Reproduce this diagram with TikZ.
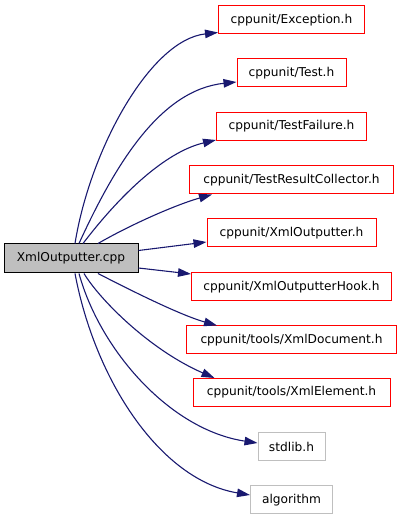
\documentclass[tikz,border=0pt]{standalone}
\usepackage{fontspec}
\setmainfont{DejaVu Sans}
\usetikzlibrary{arrows.meta}

\definecolor{edgeblue}{RGB}{25,25,112}
\definecolor{srcgrey}{RGB}{191,191,191}
\definecolor{sysgrey}{RGB}{191,191,191}
\definecolor{hdrred}{RGB}{255,0,0}

\tikzset{
  file/.style={draw, line width=1pt, minimum height=28pt, inner xsep=8pt,
    inner ysep=0pt, font=\fontsize{12.2}{14}\selectfont},
  localhdr/.style={file, draw=hdrred, minimum width=#1},
  syshdr/.style={file, draw=sysgrey, minimum width=#1},
  dep/.style={-{Triangle[length=13pt,width=8.5pt]}, draw=edgeblue,
    line width=1.1pt},
}

\begin{document}
\begin{tikzpicture}[x=1pt, y=1pt]
  \useasboundingbox (0,0) rectangle (403,520);

  % the source file
  \node[file, fill=srcgrey, minimum width=134pt, minimum height=29pt]
    (cpp) at (71,261.5) {XmlOutputter.cpp};

  % the headers it includes, all on one rank
  \node[localhdr=146pt] (exc)   at (291.5,500)   {cppunit/Exception.h};
  \node[localhdr=109pt] (test)  at (291.5,447)   {cppunit/Test.h};
  \node[localhdr=150pt] (fail)  at (291.5,393.5) {cppunit/TestFailure.h};
  \node[localhdr=204pt] (coll)  at (291.5,340)   {cppunit/TestResultCollector.h};
  \node[localhdr=169pt] (xout)  at (291.5,287)   {cppunit/XmlOutputter.h};
  \node[localhdr=200pt] (hook)  at (291.5,233)   {cppunit/XmlOutputterHook.h};
  \node[localhdr=210pt] (xdoc)  at (291.5,180)   {cppunit/tools/XmlDocument.h};
  \node[localhdr=197pt] (xelem) at (291.5,127.5) {cppunit/tools/XmlElement.h};
  \node[syshdr=67pt]    (stdlib) at (291.5,73.5) {stdlib.h};
  \node[syshdr=82pt]    (algo)  at (291.5,20)    {algorithm};

  % include edges
  \draw[dep] ([xshift=4pt]cpp.north) .. controls (90,370) and (150,480) .. ([yshift=2pt]exc.south west);
  \draw[dep] ([xshift=8pt]cpp.north) .. controls (115,355) and (160,430) .. ([yshift=-9pt]test.west);
  \draw[dep] ([xshift=12pt]cpp.north) .. controls (120,325) and (165,368) .. ([yshift=1pt]fail.south west);
  \draw[dep] ([xshift=27pt]cpp.north) .. controls (130,295) and (175,315) .. ([xshift=23pt]coll.south west);
  \draw[dep] ([yshift=8pt]cpp.east) -- ([yshift=-9pt]xout.west);
  \draw[dep] ([yshift=-9.5pt]cpp.east) -- ([yshift=13pt]hook.west);
  \draw[dep] ([xshift=27pt]cpp.south) .. controls (130,230) and (180,205) .. ([xshift=31pt]xdoc.north west);
  \draw[dep] ([xshift=13pt]cpp.south) .. controls (100,220) and (150,170) .. ([xshift=22pt]xelem.north west);
  \draw[dep] ([xshift=8pt]cpp.south) .. controls (100,170) and (170,90) .. ([yshift=3.5pt]stdlib.west);
  \draw[dep] ([xshift=4pt]cpp.south) .. controls (95,140) and (160,40) .. ([yshift=5pt]algo.west);

\end{tikzpicture}
\end{document}
